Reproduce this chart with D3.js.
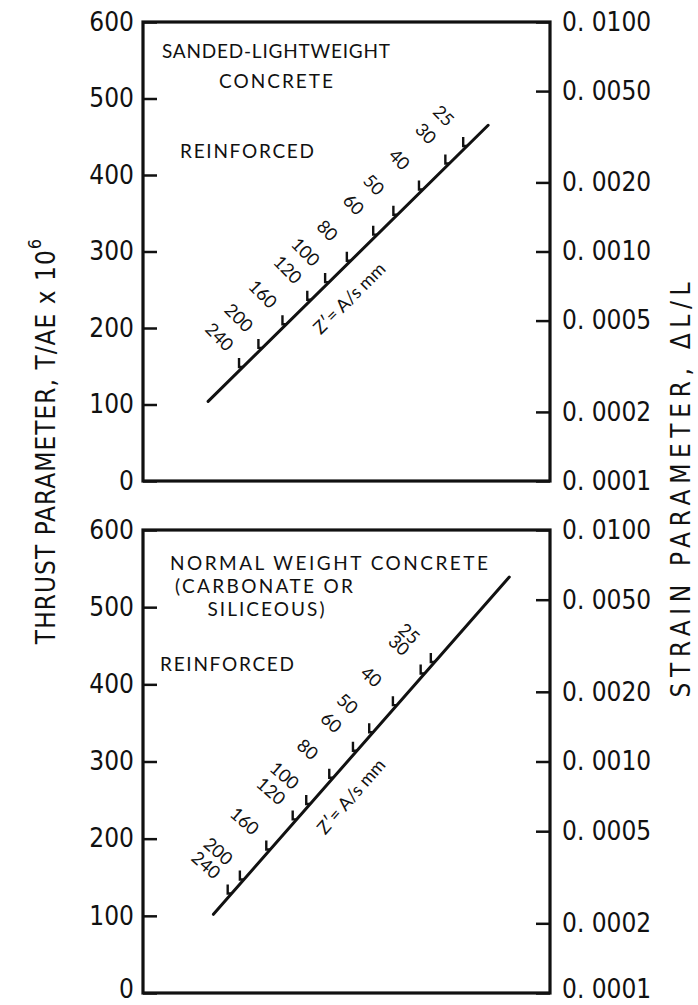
<!DOCTYPE html>
<html>
<head>
<meta charset="utf-8">
<script src="https://cdn.jsdelivr.net/npm/d3@7"></script>
<style>
  body { margin: 0; background: #fff; }
  svg { display: block; }
  .num { font-family: 'Liberation Sans Narrow', 'DejaVu Sans Condensed', sans-serif; font-size: 26px; fill: #111; }
  .note { font-family: Lato, 'Noto Sans', sans-serif; font-size: 19px; fill: #111; }
  .zlab { font-family: Lato, 'Noto Sans', sans-serif; font-size: 18px; fill: #111; }
</style>
</head>
<body>
<script>
var width = 698, height = 1005;

// axis values
var thrustTicks = [0, 100, 200, 300, 400, 500, 600];
var strainTicks = [0.0001, 0.0002, 0.0005, 0.0010, 0.0020, 0.0050, 0.0100];

// Z' = A/s (mm) marks on each nomograph line, with the thrust value where each mark sits
var zValues = [240, 200, 160, 120, 100, 80, 60, 50, 40, 30, 25];
var topThrustAtZ = [149, 174, 205, 237, 260, 288, 322, 348, 381, 415, 438];
var bottomThrustAtZ = [129, 147, 186, 225, 245, 279, 314, 338, 373, 414, 429];

// ends of each line: position across the panel (%) and thrust
var topLineX = [16, 84.8];
var topLineThrust = [104, 465];
var bottomLineX = [17.3, 90];
var bottomLineThrust = [102, 539];

var topNotes = ["SANDED-LIGHTWEIGHT", "CONCRETE"];
var bottomNotes = ["NORMAL WEIGHT CONCRETE", "(CARBONATE OR", "SILICEOUS)"];

var panels = [
  { top: 22, bottom: 481, lineX: topLineX, lineThrust: topLineThrust, marks: topThrustAtZ,
    notes: topNotes, noteX: [276, 276], noteY: [50, 80], noteW: [228, 114],
    reinfY: 150, reinfX: 180, zAt: 0.44, edge: false },
  { top: 530, bottom: 993, lineX: bottomLineX, lineThrust: bottomLineThrust, marks: bottomThrustAtZ,
    notes: bottomNotes, noteX: [329, 264, 266], noteY: [562, 585, 608], noteW: [318, 178, 117],
    reinfY: 663, reinfX: 160, zAt: 0.40, edge: true }
];

var left = 143, right = 550;

var svg = d3.select("body").append("svg")
    .attr("width", width)
    .attr("height", height);

var fmtStrain = function(d) { return d3.format(".4f")(d).replace(".", ". "); };

panels.forEach(function(p) {
  var x = d3.scaleLinear().domain([0, 100]).range([left, right]);
  var y = d3.scaleLinear().domain([0, 600]).range([p.bottom, p.top]);
  var ys = d3.scaleLog().domain([0.0001, 0.01]).range([p.bottom, p.top]);

  var g = svg.append("g");

  var la = g.append("g")
      .attr("transform", "translate(" + left + ",0)")
      .call(d3.axisLeft(y).tickValues(thrustTicks).tickSize(-14).tickPadding(9).tickFormat(d3.format("d")));
  var ra = g.append("g")
      .attr("transform", "translate(" + right + ",0)")
      .call(d3.axisRight(ys).tickValues(strainTicks).tickSize(-14).tickPadding(12).tickFormat(fmtStrain));

  [la, ra].forEach(function(a) {
    a.select(".domain").remove();
    a.selectAll("line").attr("stroke", "#111").attr("stroke-width", 2.5);
    a.selectAll("text").attr("class", "num").attr("font-family", null).attr("font-size", null).attr("fill", null);
    // the lowest labels of the page sit right at the bottom edge
    if (p.edge) a.selectAll(".tick").filter(function(v, i) { return i === 0; }).select("text").attr("dy", "0.18em");
  });

  g.append("rect")
      .attr("x", left).attr("y", p.top)
      .attr("width", right - left).attr("height", p.bottom - p.top)
      .attr("fill", "none").attr("stroke", "#111").attr("stroke-width", 3.2);

  // notes
  p.notes.forEach(function(t, i) {
    g.append("text").attr("class", "note")
        .attr("x", p.noteX[i]).attr("y", p.noteY[i])
        .attr("text-anchor", "middle").attr("dominant-baseline", "central")
        .attr("textLength", p.noteW[i]).attr("lengthAdjust", "spacing")
        .text(t);
  });
  g.append("text").attr("class", "note")
      .attr("x", p.reinfX).attr("y", p.reinfY)
      .attr("dominant-baseline", "central")
      .attr("textLength", 134).attr("lengthAdjust", "spacing")
      .text("REINFORCED");

  // nomograph line
  var p0 = [x(p.lineX[0]), y(p.lineThrust[0])];
  var p1 = [x(p.lineX[1]), y(p.lineThrust[1])];
  var len = Math.hypot(p1[0] - p0[0], p1[1] - p0[1]);
  var d = [(p1[0] - p0[0]) / len, (p1[1] - p0[1]) / len];
  var n = [d[1], -d[0]];
  var ang = Math.atan2(d[1], d[0]) * 180 / Math.PI;
  var perpAng = Math.atan2(-n[1], -n[0]) * 180 / Math.PI;

  g.append("line")
      .attr("x1", p0[0]).attr("y1", p0[1]).attr("x2", p1[0]).attr("y2", p1[1])
      .attr("stroke", "#111").attr("stroke-width", 3).attr("stroke-linecap", "round");

  var xAt = function(t) {
    var yy = y(t);
    return p0[0] + (yy - p0[1]) * (p1[0] - p0[0]) / (p1[1] - p0[1]);
  };

  var marks = zValues.map(function(z, i) { return { z: z, t: p.marks[i] }; });

  g.selectAll(".zt").data(marks).enter().append("path")
      .attr("class", "zt")
      .attr("d", function(m) {
        var px = xAt(m.t), py = y(m.t);
        return "M" + px + "," + py + "h-4v-9";
      })
      .attr("fill", "none").attr("stroke", "#111").attr("stroke-width", 2.4);

  g.selectAll(".zl").data(marks).enter().append("text")
      .attr("class", "zlab")
      .attr("text-anchor", "middle").attr("dominant-baseline", "central")
      .attr("transform", function(m) {
        var px = xAt(m.t) + n[0] * 38 + d[0] * 5;
        var py = y(m.t) + n[1] * 38 + d[1] * 5;
        return "translate(" + px + "," + py + ") rotate(" + perpAng + ")";
      })
      .text(function(m) { return m.z; });

  var mid = [p0[0] + (p1[0] - p0[0]) * p.zAt - n[0] * 25, p0[1] + (p1[1] - p0[1]) * p.zAt - n[1] * 25];
  g.append("text").attr("class", "zlab")
      .attr("font-size", 19)
      .attr("text-anchor", "middle").attr("dominant-baseline", "central")
      .attr("transform", "translate(" + mid[0] + "," + mid[1] + ") rotate(" + ang + ")")
      .text("Z\u2032= A/s mm");
});

// axis titles
var lt = svg.append("text").attr("class", "num")
    .attr("transform", "translate(46,441) rotate(-90)")
    .attr("text-anchor", "middle").attr("dominant-baseline", "central")
    .attr("letter-spacing", 1);
lt.append("tspan").text("THRUST PARAMETER,  T/AE x 10");
lt.append("tspan").attr("dy", -12).attr("font-size", 18).text("6");

svg.append("text").attr("class", "num")
    .attr("transform", "translate(681,490) rotate(-90)")
    .attr("text-anchor", "middle").attr("dominant-baseline", "central")
    .attr("textLength", 415).attr("lengthAdjust", "spacing")
    .text("STRAIN PARAMETER, \u0394L/L");
</script>
</body>
</html>
